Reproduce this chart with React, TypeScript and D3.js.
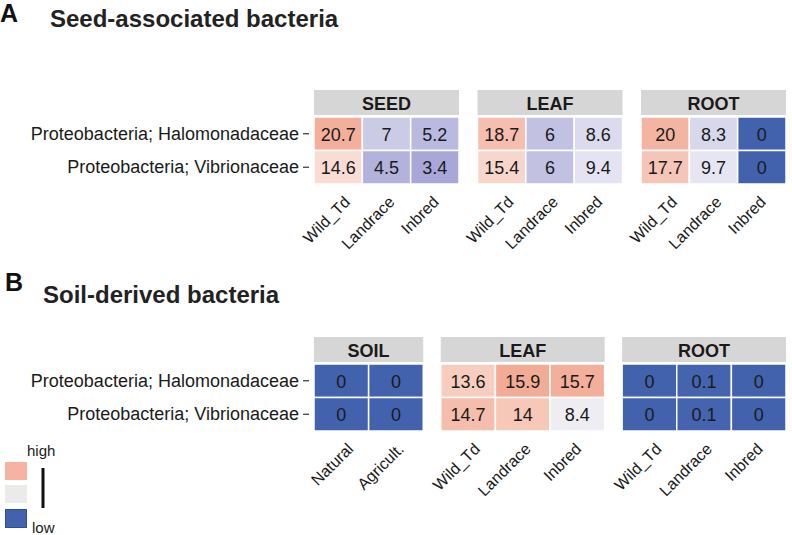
import React from "react";
import * as d3 from "d3";

const rowsLabels = ["Proteobacteria; Halomonadaceae", "Proteobacteria; Vibrionaceae"];

const genotypes = ["Wild_Td", "Landrace", "Inbred"];
const soilTypes = ["Natural", "Agricult."];

// Panel A: seed-associated bacteria
const facetsA = ["SEED", "LEAF", "ROOT"];
const seedA = [[20.7, 7, 5.2], [14.6, 4.5, 3.4]];
const leafA = [[18.7, 6, 8.6], [15.4, 6, 9.4]];
const rootA = [[20, 8.3, 0], [17.7, 9.7, 0]];

// Panel B: soil-derived bacteria
const facetsB = ["SOIL", "LEAF", "ROOT"];
const soilB = [[0, 0], [0, 0]];
const leafB = [[13.6, 15.9, 15.7], [14.7, 14, 8.4]];
const rootB = [[0, 0.1, 0], [0, 0.1, 0]];

const legendLabels = ["high", "low"];

const FONT = "'Liberation Sans', Arial, Helvetica, sans-serif";
const TXT = "#1a1a1a";

const colorA = d3.scaleLinear<string>()
  .domain([0, 3.4, 9.7, 14.6, 20.7])
  .range(["#4262AE", "#A8A7D7", "#E6E6F2", "#F9DCD3", "#F3AF9C"]);
const colorB = d3.scaleLinear<string>()
  .domain([0, 8.4, 13.6, 15.9])
  .range(["#4262AE", "#EEEEF2", "#F8CDBF", "#F2AC96"]);

type Facet = { name: string; cols: string[]; values: number[][] };

function Panel({ facets, top, gap, color }: { facets: Facet[]; top: number; gap: number; color: (v: number) => string }) {
  const x0 = 314, x1 = 786;
  const nCols = d3.sum(facets, (f) => f.cols.length);
  const colW = (x1 - x0 - gap * (facets.length - 1)) / nCols;
  const stripH = 25;
  const cellTop = top + stripH + 2;
  const y = d3.scaleBand().domain(rowsLabels).range([cellTop, cellTop + 67]);
  let cursor = x0;
  const placed = facets.map((f) => {
    const w = colW * f.cols.length;
    const xs = d3.scaleBand().domain(f.cols).range([cursor, cursor + w]);
    cursor += w + gap;
    return { f, xs, start: cursor - w - gap, w };
  });
  const bottom = cellTop + 67;
  return (
    <g>
      {rowsLabels.map((r) => (
        <g key={r}>
          <text x={299} y={y(r)! + y.bandwidth() / 2} textAnchor="end" dominantBaseline="central"
            fontSize={18} fontFamily={FONT} fill={TXT}>{r}</text>
          <line x1={303} x2={309} y1={y(r)! + y.bandwidth() / 2} y2={y(r)! + y.bandwidth() / 2} stroke="#333" strokeWidth={1.2} />
        </g>
      ))}
      {placed.map(({ f, xs, start, w }) => (
        <g key={f.name + start}>
          <rect x={start} y={top} width={w} height={stripH} fill="#D6D6D6" />
          <text x={start + w / 2} y={top + stripH / 2 + 1} textAnchor="middle" dominantBaseline="central"
            fontSize={18} fontWeight="bold" fontFamily={FONT} fill={TXT}>{f.name}</text>
          {rowsLabels.map((r, ri) =>
            f.cols.map((c, ci) => {
              const v = f.values[ri][ci];
              return (
                <g key={r + c}>
                  <rect x={xs(c)!} y={y(r)!} width={xs.bandwidth()} height={y.bandwidth()}
                    fill={color(v)} stroke="#ffffff" strokeWidth={1.5} />
                  <text x={xs(c)! + xs.bandwidth() / 2} y={y(r)! + y.bandwidth() / 2 + 1} textAnchor="middle"
                    dominantBaseline="central" fontSize={18} fontFamily={FONT} fill={TXT}>{String(v)}</text>
                </g>
              );
            })
          )}
          {f.cols.map((c, ci) => {
            const cx = xs(c)! + xs.bandwidth() / 2 + 13 - 4 * ci;
            const cy = bottom + 19;
            return (
              <text key={c} transform={`translate(${cx},${cy}) rotate(-45)`} textAnchor="end"
                fontSize={16} fontFamily={FONT} fill={TXT}>{c}</text>
            );
          })}
        </g>
      ))}
    </g>
  );
}

export default function App() {
  const facetDataA: Facet[] = [
    { name: facetsA[0], cols: genotypes, values: seedA },
    { name: facetsA[1], cols: genotypes, values: leafA },
    { name: facetsA[2], cols: genotypes, values: rootA },
  ];
  const facetDataB: Facet[] = [
    { name: facetsB[0], cols: soilTypes, values: soilB },
    { name: facetsB[1], cols: genotypes, values: leafB },
    { name: facetsB[2], cols: genotypes, values: rootB },
  ];
  return (
    <svg width={792} height={535} style={{ position: "absolute", left: 0, top: 0, background: "#fff" }}>
      <rect width={792} height={535} fill="#fff" />
      <text x={0} y={22} fontSize={25} fontWeight="bold" fontFamily={FONT} fill="#111">A</text>
      <text x={50} y={27} fontSize={24} fontWeight="bold" fontFamily={FONT} fill="#222">Seed-associated bacteria</text>
      <Panel facets={facetDataA} top={90} gap={18.5} color={colorA} />

      <text x={5} y={291} fontSize={25} fontWeight="bold" fontFamily={FONT} fill="#111">B</text>
      <text x={43} y={303} fontSize={24} fontWeight="bold" fontFamily={FONT} fill="#222">Soil-derived bacteria</text>
      <Panel facets={facetDataB} top={337} gap={17.5} color={colorB} />

      {/* legend */}
      <text x={27} y={456} fontSize={15} fontFamily={FONT} fill={TXT}>{legendLabels[0]}</text>
      <rect x={5} y={462} width={22} height={18} fill="#F7B3A2" />
      <rect x={5} y={485} width={22} height={18} fill="#EBEBEA" />
      <rect x={5.5} y={509.5} width={21} height={18} fill="#4262AE" stroke="#2F4C96" strokeWidth={1} />
      <line x1={43} x2={43} y1={468} y2={508} stroke="#111" strokeWidth={3} />
      <text x={32} y={533} fontSize={15} fontFamily={FONT} fill={TXT}>{legendLabels[1]}</text>
    </svg>
  );
}
